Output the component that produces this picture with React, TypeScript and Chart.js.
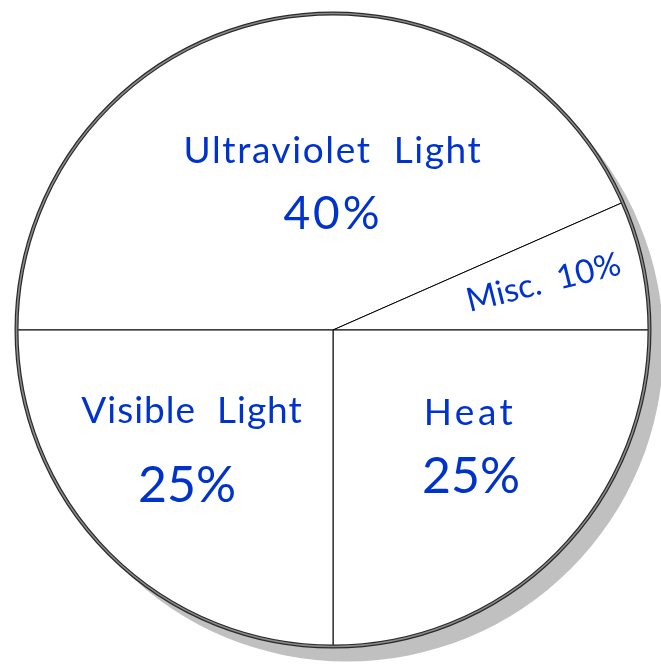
import React, { useEffect, useRef } from "react";
import { Chart, registerables } from "chart.js";

Chart.register(...registerables);

const categories = ["Ultraviolet Light", "Misc.", "Heat", "Visible Light"];
// slice sizes as drawn in the picture (the Misc wedge is ~23.6 degrees)
const shares = [43.4, 6.6, 25, 25];
const pctLabels = ["40%", "10%", "25%", "25%"];

const TEXT_COLOR = "rgb(0,51,204)";
const FONT = "Lato, 'Open Sans', sans-serif";

// label layout, offsets from pie centre: [dx, dy, fontSize, letterSpacing]
const labelLayout: any[] = [
  { name: [0, -167, 37, 1.6], pct: [0, -101, 46, 3] },
  { inline: [213, -37, 33, 0, -14] },
  { name: [137, 95, 37, 3.5], pct: [138, 163, 50, 0] },
  { name: [-141, 93, 37, 1], pct: [-146, 172, 50, 0] },
];

export default function App() {
  const ref = useRef<HTMLCanvasElement | null>(null);
  useEffect(() => {
    document.body.style.margin = "0";
    const canvas = ref.current!;
    const decor = {
      id: "decor",
      beforeDatasetsDraw(chart: any) {
        const arc = chart.getDatasetMeta(0).data[0] as any;
        const { x, y, outerRadius } = arc;
        const ctx = chart.ctx;
        ctx.save();
        ctx.fillStyle = "#c0c0c0";
        ctx.beginPath();
        ctx.arc(x + 14, y + 15, outerRadius, 0, Math.PI * 2);
        ctx.fill();
        ctx.restore();
      },
      afterDatasetsDraw(chart: any) {
        const arc = chart.getDatasetMeta(0).data[0] as any;
        const { x, y, outerRadius } = arc;
        const ctx = chart.ctx;
        ctx.save();
        ctx.beginPath();
        ctx.arc(x, y, outerRadius, 0, Math.PI * 2);
        ctx.strokeStyle = "#2a2a2a";
        ctx.lineWidth = 4;
        ctx.stroke();
        ctx.beginPath();
        ctx.arc(x, y, outerRadius, 0, Math.PI * 2);
        ctx.strokeStyle = "#8a8a8a";
        ctx.lineWidth = 1.6;
        ctx.stroke();

        ctx.fillStyle = TEXT_COLOR;
        ctx.textAlign = "center";
        ctx.textBaseline = "alphabetic";
        const sp = (s: string) => s.split(" ").join("  ");
        const setLS = (v: number) => {
          try {
            (ctx as any).letterSpacing = `${v}px`;
          } catch (e) {}
        };
        labelLayout.forEach((l: any, i) => {
          if (l.inline) {
            const [dx, dy, fs, ls, rot] = l.inline;
            ctx.save();
            ctx.translate(x + dx, y + dy);
            ctx.rotate((rot * Math.PI) / 180);
            ctx.font = `${fs}px ${FONT}`;
            setLS(ls);
            ctx.fillText(sp(categories[i] + " " + pctLabels[i]), 0, 0);
            ctx.restore();
          } else {
            ctx.font = `${l.name[2]}px ${FONT}`;
            setLS(l.name[3]);
            ctx.fillText(sp(categories[i]), x + l.name[0], y + l.name[1]);
            ctx.font = `${l.pct[2]}px ${FONT}`;
            setLS(l.pct[3]);
            ctx.fillText(pctLabels[i], x + l.pct[0], y + l.pct[1]);
          }
        });
        setLS(0);
        ctx.restore();
      },
    };
    const chart = new Chart(canvas, {
      type: "pie",
      data: {
        labels: categories,
        datasets: [
          {
            data: shares,
            backgroundColor: "#ffffff",
            borderColor: "#000000",
            borderWidth: 1,
            hoverOffset: 0,
          },
        ],
      },
      options: {
        responsive: false,
        animation: false,
        events: [],
        rotation: -90,
        layout: { padding: { left: 16, right: 11, top: 13, bottom: 19 } },
        plugins: { legend: { display: false }, tooltip: { enabled: false } },
      },
      plugins: [decor],
    });
    return () => chart.destroy();
  }, []);
  return (
    <div style={{ position: "absolute", left: 0, top: 0, width: 661, height: 666, background: "#fff" }}>
      <canvas ref={ref} width={661} height={666} />
    </div>
  );
}
